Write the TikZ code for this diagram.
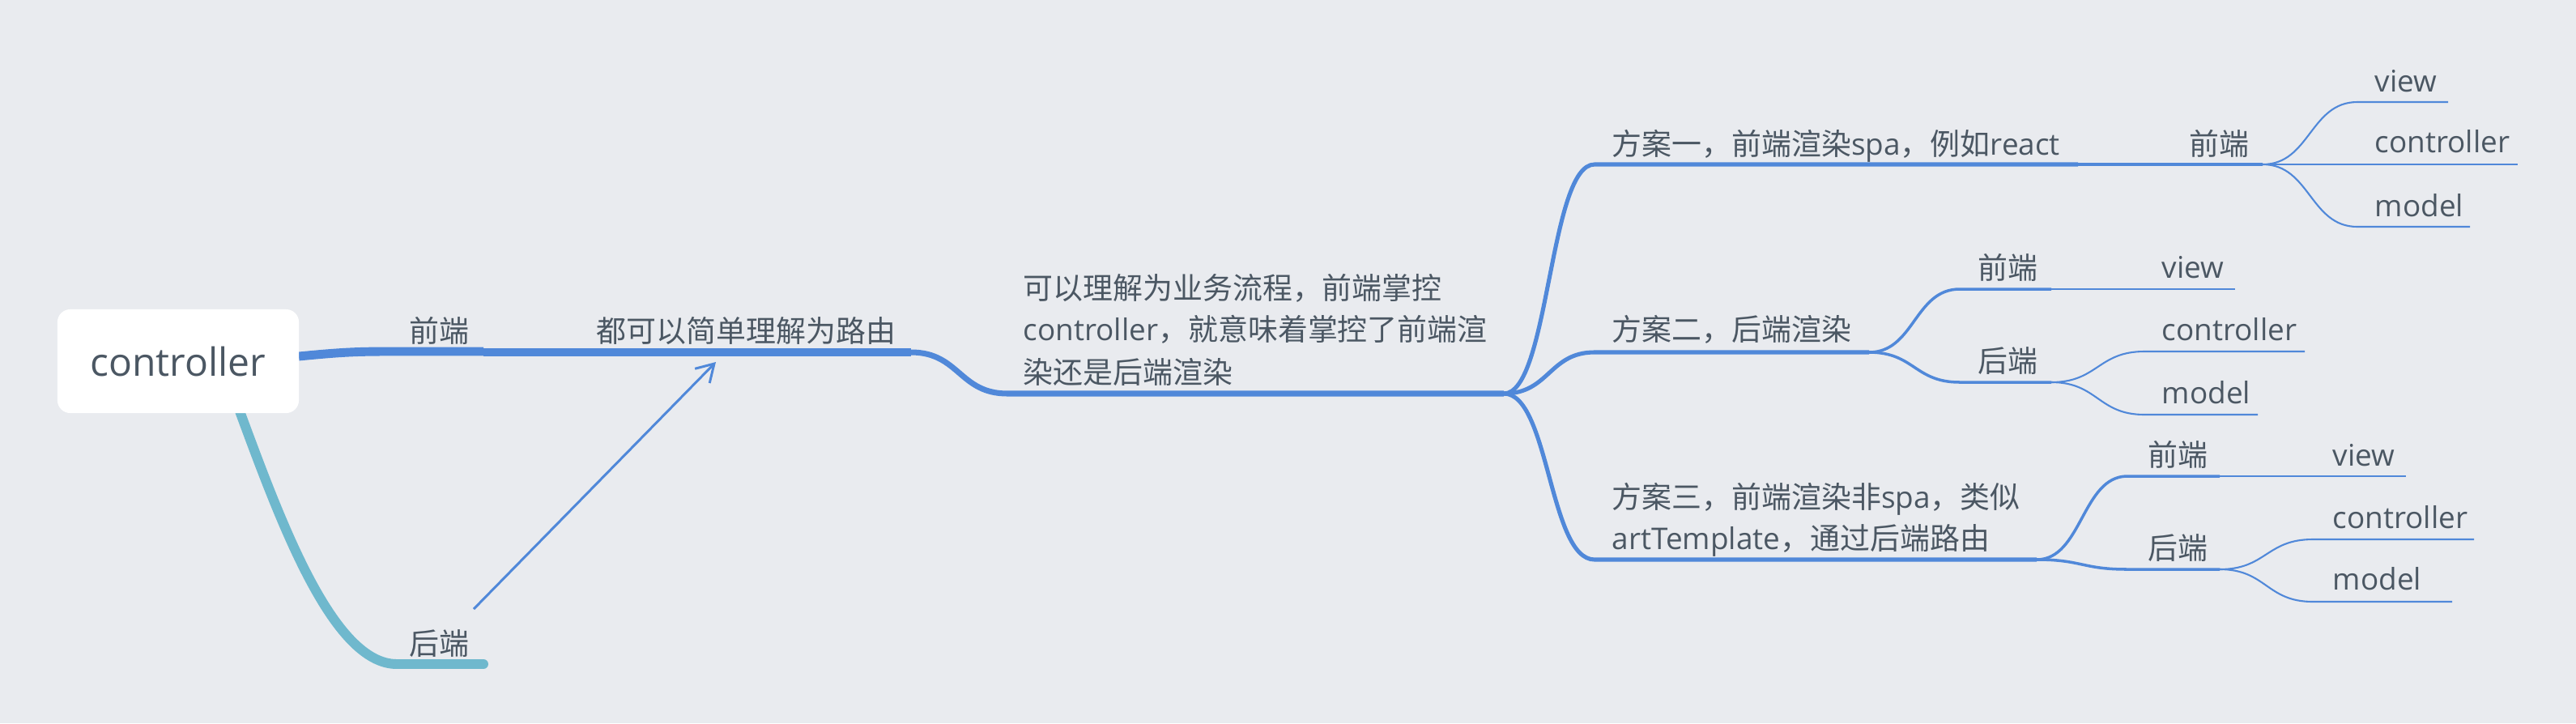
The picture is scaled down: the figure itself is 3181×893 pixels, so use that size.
\documentclass[tikz,border=0pt]{standalone}
\usepackage{fontspec}
\setmainfont{Open Sans}
\newfontfamily\cjk{Noto Sans CJK SC}
\usetikzlibrary{arrows.meta,calc,backgrounds}
\definecolor{bgc}{RGB}{233,235,239}
\definecolor{lblue}{RGB}{80,136,217}
\definecolor{lteal}{RGB}{111,184,205}
\definecolor{txt}{RGB}{75,87,99}
\newcommand\zh[1]{{\cjk #1}}
\begin{document}
\begin{tikzpicture}[x=0.01cm,y=-0.01cm,
  lbl/.style={inner sep=0pt, anchor=base west, text=txt, font=\fontsize{10.5pt}{14.8pt}\selectfont},
  conn/.style={draw=lblue, line width=#1},
  conn/.default=1pt,
  sc/.style={to path={let \p1=(\tikztostart),\p2=(\tikztotarget),\n1={0.5*(\x2-\x1)} in .. controls +(\n1,0) and +(-\n1,0) .. (\tikztotarget)}},
]
\useasboundingbox (0,0) rectangle (3181,893);
% root
\node[fill=white, rounded corners=4.5pt, minimum width=2.98cm, minimum height=1.28cm, inner sep=0pt,
      text=txt, font=\fontsize{13.65pt}{16pt}\selectfont] (root) at (220,446) {controller};
% labels
\node[lbl] (n1f) at (505,422) {\zh{前端}};
\node[lbl] (n1b) at (505,808) {\zh{后端}};
\node[lbl] (n2) at (736,422) {\zh{都可以简单理解为路由}};
\node[lbl] (n3a) at (1263,369) {\zh{可以理解为业务流程，前端掌控}};
\node[lbl] (n3b) at (1263,420) {controller\zh{，就意味着掌控了前端渲}};
\node[lbl] (n3c) at (1263,473) {\zh{染还是后端渲染}};
\node[lbl] (p1) at (1990,191) {\zh{方案一，前端渲染}spa\zh{，例如}react};
\node[lbl] (p1f) at (2703,191) {\zh{前端}};
\node[lbl] (p1v) at (2932,113) {view};
\node[lbl] (p1c) at (2932,188) {controller};
\node[lbl] (p1m) at (2932,267) {model};
\node[lbl] (p2) at (1990,420) {\zh{方案二，后端渲染}};
\node[lbl] (p2f) at (2442,344) {\zh{前端}};
\node[lbl] (p2v) at (2669,343) {view};
\node[lbl] (p2b) at (2442,459) {\zh{后端}};
\node[lbl] (p2c) at (2669,420) {controller};
\node[lbl] (p2m) at (2669,498) {model};
\node[lbl] (p3a) at (1990,627) {\zh{方案三，前端渲染非}spa\zh{，类似}};
\node[lbl] (p3b) at (1990,678) {artTemplate\zh{，通过后端路由}};
\node[lbl] (p3f) at (2652,575) {\zh{前端}};
\node[lbl] (p3v) at (2880,575) {view};
\node[lbl] (p3bk) at (2652,690) {\zh{后端}};
\node[lbl] (p3c) at (2880,652) {controller};
\node[lbl] (p3m) at (2880,728) {model};
% coordinates
\coordinate (rE) at (369,440);
\coordinate (rS) at (295,505);
\coordinate (f0) at (480,434);
\coordinate (f1) at (597,434);
\coordinate (b0) at (490,820);
\coordinate (b1) at (597,820);
\coordinate (g0) at (597,435);
\coordinate (j1) at (1125,435);
\coordinate (c1) at (1244,486);
\coordinate (j2) at (1857,486);
\coordinate (s1) at (1969,203); \coordinate (e1) at (2566,203); \coordinate (j11) at (2794,203);
\coordinate (v1s) at (2911,126); \coordinate (v1e) at (3023,126);
\coordinate (c1e) at (3109,203);
\coordinate (m1s) at (2911,280); \coordinate (m1e) at (3050,280);
\coordinate (s2) at (1969,435); \coordinate (j21) at (2308,435);
\coordinate (f2s) at (2420,357); \coordinate (f2e) at (2533,357); \coordinate (v2e) at (2760,357);
\coordinate (b2s) at (2420,472); \coordinate (j22) at (2533,472);
\coordinate (c2s) at (2648,434); \coordinate (c2e) at (2846,434);
\coordinate (m2s) at (2648,512); \coordinate (m2e) at (2788,512);
\coordinate (s3) at (1969,691); \coordinate (j31) at (2515,691);
\coordinate (f3s) at (2627,588); \coordinate (f3e) at (2741,588); \coordinate (v3e) at (2971,588);
\coordinate (b3s) at (2627,703); \coordinate (j32) at (2741,703);
\coordinate (c3s) at (2856,666); \coordinate (c3e) at (3055,666);
\coordinate (m3s) at (2856,743); \coordinate (m3e) at (3028,743);
\coordinate (arrS) at (585,752);
\coordinate (arrE) at (884,447);
\begin{scope}[on background layer]
\fill[bgc] (0,0) rectangle (3181,893);
\draw[conn=3.1pt] (rE) .. controls (420,435) and (440,434) .. (f0) -- (f1);
\draw[lteal, line width=3.4pt, line cap=round] (rS) .. controls (345,640) and (410,820) .. (b0) -- (b1);
\draw[conn=2.6pt] (g0) -- (j1);
\draw[conn=2pt] (j1) to[sc] (c1) -- (j2);
% 方案一
\draw[conn=1.45pt] (j2) to[sc] (s1) -- (e1);
\draw[conn=1pt] (e1) -- (j11);
\draw[conn=0.6pt] (j11) to[sc] (v1s) -- (v1e);
\draw[conn=0.6pt] (j11) -- (c1e);
\draw[conn=0.6pt] (j11) to[sc] (m1s) -- (m1e);
% 方案二
\draw[conn=1.45pt] (j2) to[sc] (s2) -- (j21);
\draw[conn=1pt] (j21) to[sc] (f2s) -- (f2e);
\draw[conn=0.6pt] (f2e) -- (v2e);
\draw[conn=1pt] (j21) to[sc] (b2s) -- (j22);
\draw[conn=0.6pt] (j22) to[sc] (c2s) -- (c2e);
\draw[conn=0.6pt] (j22) to[sc] (m2s) -- (m2e);
% 方案三
\draw[conn=1.45pt] (j2) to[sc] (s3) -- (j31);
\draw[conn=1pt] (j31) to[sc] (f3s) -- (f3e);
\draw[conn=0.6pt] (f3e) -- (v3e);
\draw[conn=1pt] (j31) to[sc] (b3s) -- (j32);
\draw[conn=0.6pt] (j32) to[sc] (c3s) -- (c3e);
\draw[conn=0.6pt] (j32) to[sc] (m3s) -- (m3e);
\end{scope}
\draw[lblue, line width=0.85pt, -{Straight Barb[length=6pt,width=7.2pt]}] (arrS) -- (arrE);
\end{tikzpicture}
\end{document}
